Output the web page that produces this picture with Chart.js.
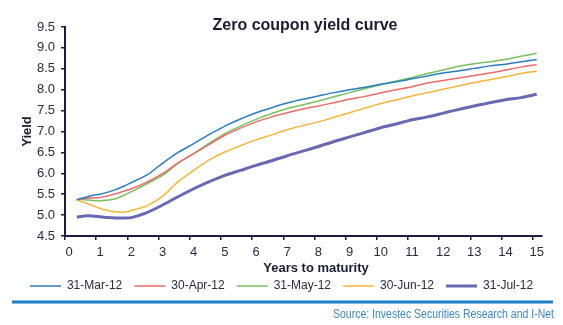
<!DOCTYPE html>
<html>
<head>
<meta charset="utf-8">
<title>Zero coupon yield curve</title>
<script src="https://cdn.jsdelivr.net/npm/chart.js@4.4.1/dist/chart.umd.min.js"></script>
<style>
  html, body { margin: 0; padding: 0; background: #fff; }
  #wrap { width: 563px; height: 325px; }
</style>
</head>
<body>
<div id="wrap"><canvas id="yieldChart" width="563" height="325"></canvas></div>
<script>
// years to maturity for every curve point
const maturities = [0.25, 0.5, 0.75, 1, 1.25, 1.5, 1.75, 2, 2.5, 3, 3.5, 4, 4.5, 5, 5.5, 6, 6.5, 7,
  7.5, 8, 8.5, 9, 9.5, 10, 10.5, 11, 11.5, 12, 12.5, 13, 13.5, 14, 14.5, 15];

const curveDates = ["31-Mar-12", "30-Apr-12", "31-May-12", "30-Jun-12", "31-Jul-12"];

const yieldMar = [5.37, 5.42, 5.47, 5.50, 5.55, 5.61, 5.69, 5.78, 5.96, 6.24, 6.50, 6.71, 6.93, 7.13,
  7.30, 7.45, 7.57, 7.68, 7.77, 7.85, 7.93, 8.00, 8.06, 8.13, 8.19, 8.26, 8.33, 8.40, 8.45, 8.51,
  8.57, 8.61, 8.67, 8.72];
const yieldApr = [5.37, 5.40, 5.41, 5.42, 5.46, 5.51, 5.57, 5.63, 5.79, 5.99, 6.25, 6.47, 6.69, 6.91,
  7.08, 7.23, 7.35, 7.45, 7.54, 7.61, 7.69, 7.77, 7.84, 7.92, 8.00, 8.07, 8.16, 8.22, 8.28, 8.34,
  8.40, 8.47, 8.54, 8.60];
const yieldMay = [5.37, 5.37, 5.35, 5.34, 5.36, 5.39, 5.47, 5.56, 5.75, 5.95, 6.24, 6.47, 6.72, 6.95,
  7.13, 7.29, 7.43, 7.55, 7.64, 7.73, 7.83, 7.93, 8.03, 8.12, 8.21, 8.29, 8.39, 8.47, 8.56, 8.62,
  8.67, 8.72, 8.80, 8.87];
const yieldJun = [5.36, 5.30, 5.23, 5.16, 5.11, 5.08, 5.07, 5.11, 5.22, 5.45, 5.80, 6.07, 6.32, 6.51,
  6.66, 6.80, 6.92, 7.04, 7.14, 7.23, 7.34, 7.45, 7.56, 7.67, 7.76, 7.85, 7.93, 8.01, 8.09, 8.17,
  8.24, 8.31, 8.39, 8.44];
const yieldJul = [4.95, 4.98, 4.98, 4.96, 4.94, 4.93, 4.93, 4.94, 5.06, 5.24, 5.44, 5.63, 5.80, 5.95,
  6.07, 6.19, 6.30, 6.42, 6.53, 6.64, 6.76, 6.87, 6.98, 7.09, 7.18, 7.28, 7.35, 7.44, 7.53, 7.61,
  7.69, 7.76, 7.81, 7.89];

// x axis labels; the tick marks sit a little left of each label
const yearTicks = [0, 1, 2, 3, 4, 5, 6, 7, 8, 9, 10, 11, 12, 13, 14, 15];
const tickShift = 0.128;

const axisColor = "#1b1d3a";
const textColor = "#2b2b3d";
const font = "'Liberation Sans', Arial, sans-serif";

const toPoints = (values) => maturities.map((m, i) => ({ x: m, y: values[i] }));

const curve = (label, values, color, width) => ({
  label,
  data: toPoints(values),
  borderColor: color,
  backgroundColor: color,
  borderWidth: width,
  pointRadius: 0,
  tension: 0.25,
  fill: false,
});

// title, x axis caption, rule and source line
const decorations = {
  id: "decorations",
  afterDraw(chart) {
    const { ctx } = chart;
    ctx.save();
    ctx.fillStyle = "#1c1c30";
    ctx.textAlign = "center";
    ctx.textBaseline = "alphabetic";
    ctx.font = "bold 16px " + font;
    ctx.fillText("Zero coupon yield curve", 305, 30);
    ctx.font = "bold 13px " + font;
    ctx.fillText("Years to maturity", 316, 272);

    ctx.fillStyle = "#1f7cc6";
    ctx.fillRect(12, 300.5, 541, 3);

    // narrow source note, right aligned under the rule
    const source = "Source: Investec Securities Research and I-Net";
    ctx.fillStyle = "#3a86c8";
    ctx.textAlign = "left";
    ctx.font = "13px " + font;
    const squeeze = 221 / ctx.measureText(source).width;
    ctx.translate(333, 318);
    ctx.scale(squeeze, 1);
    ctx.fillText(source, 0, 0);
    ctx.restore();
  },
};

new Chart(document.getElementById("yieldChart"), {
  type: "line",
  data: {
    datasets: [
      curve(curveDates[0], yieldMar, "#2a7cc0", 1.5),
      curve(curveDates[1], yieldApr, "#ec6a6a", 1.5),
      curve(curveDates[2], yieldMay, "#78c060", 1.5),
      curve(curveDates[3], yieldJun, "#f8b534", 1.5),
      curve(curveDates[4], yieldJul, "#6868b4", 3),
    ],
  },
  options: {
    responsive: false,
    animation: false,
    devicePixelRatio: 1,
    layout: { padding: { top: 27, left: 0, right: 0, bottom: 23 } },
    scales: {
      x: {
        type: "linear",
        min: -tickShift,
        max: 15.17,
        afterBuildTicks: (scale) => {
          scale.ticks = yearTicks.map((v) => ({ value: v - tickShift }));
        },
        afterFit: (scale) => { scale.height = 32; },
        border: { display: true, color: axisColor, width: 2 },
        grid: { drawOnChartArea: false, drawTicks: true, tickLength: 4, color: axisColor, lineWidth: 1.5 },
        ticks: {
          autoSkip: false,
          maxRotation: 0,
          padding: 5,
          labelOffset: 4,
          color: textColor,
          font: { family: font, size: 13 },
          callback: (value, index) => String(yearTicks[index]),
        },
      },
      y: {
        min: 4.5,
        max: 9.5,
        afterFit: (scale) => { scale.width = 65; },
        border: { display: true, color: axisColor, width: 2 },
        grid: { drawOnChartArea: false, drawTicks: true, tickLength: 4, color: axisColor, lineWidth: 1.5 },
        ticks: {
          stepSize: 0.5,
          padding: 6,
          color: textColor,
          font: { family: font, size: 13 },
          callback: (value) => value.toFixed(1),
        },
        title: {
          display: true,
          text: "Yield",
          color: "#1c1c30",
          padding: { top: 20, bottom: 0 },
          font: { family: font, size: 13, weight: "bold" },
        },
      },
      // keeps room on the right of the plot
      spacer: {
        position: "right",
        display: true,
        afterFit: (scale) => { scale.width = 21; },
        border: { display: false },
        grid: { display: false },
        ticks: { display: false },
      },
    },
    plugins: {
      title: { display: false },
      tooltip: { enabled: false },
      legend: {
        position: "bottom",
        labels: {
          usePointStyle: true,
          pointStyle: "line",
          pointStyleWidth: 31,
          boxHeight: 12,
          padding: 12,
          color: textColor,
          font: { family: font, size: 12 },
        },
      },
    },
  },
  plugins: [decorations],
});
</script>
</body>
</html>
